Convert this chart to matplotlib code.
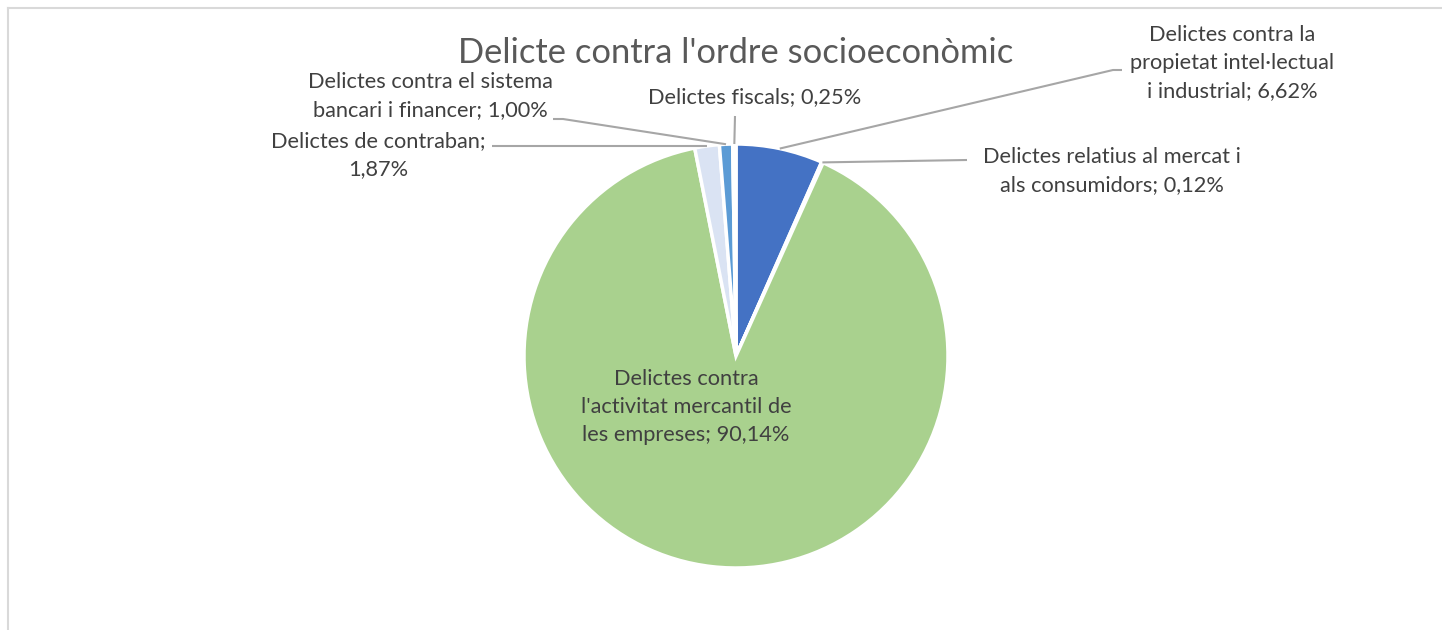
import matplotlib
matplotlib.use('Agg')
import numpy as np
import matplotlib.pyplot as plt

# data (clockwise from 12 o'clock)
categories = ["Delictes contra la\npropietat intel·lectual\ni industrial",
              "Delictes relatius al mercat i\nals consumidors",
              "Delictes contra\nl'activitat mercantil de\nles empreses",
              "Delictes de contraban;\n",
              "Delictes contra el sistema\nbancari i financer",
              "Delictes fiscals"]
shares = [6.62, 0.12, 90.14, 1.87, 1.00, 0.25]
colors = ['#4472C4', '#ED7D31', '#A9D18E', '#DAE3F3', '#5B9BD5', '#FFFFFF']

TITLE = "Delicte contra l'ordre socioeconòmic"

# layout, in pixels of the 1442x630 canvas
W, H = 1442, 630
CX, CY, R = 736, 356, 212
label_pos = [(1232, 63), (1112, 171), (686, 407), (378, 155), (430, 96), (755, 97)]
# where each leader line leaves the label (None = label sits inside the slice)
leader_start = [[(1122, 70), (1113, 70)],
                [(967, 160)],
                None,
                [(492, 146), (690, 146)],
                [(553, 119), (563, 119)],
                [(735, 116)]]

FONT = ['Lato', 'DejaVu Sans']
TXT = '#404040'
LINE = '#A6A6A6'


def px(x, y):
    return (x - CX) / R, (CY - y) / R


def fmt(v):
    return ("%.2f%%" % v).replace('.', ',')


fig = plt.figure(figsize=(W / 100, H / 100), dpi=100)
ax = fig.add_axes([0, 0, 1, 1])

wedges, _ = ax.pie(shares, colors=colors, startangle=90, counterclock=False,
                   radius=1, wedgeprops=dict(edgecolor='white', linewidth=2.5))

ax.set_xlim(-CX / R, (W - CX) / R)
ax.set_ylim(-(H - CY) / R, CY / R)
ax.set_aspect('equal')
ax.axis('off')

for i, w in enumerate(wedges):
    name = categories[i]
    if name.endswith('\n'):
        txt = name + fmt(shares[i])
    else:
        txt = name + '; ' + fmt(shares[i])
    x, y = px(*label_pos[i])
    ax.text(x, y, txt, ha='center', va='center', fontsize=15.7, color=TXT,
            family=FONT, linespacing=1.5)

    pts = leader_start[i]
    if pts is None:
        continue
    mid = np.deg2rad((w.theta1 + w.theta2) / 2)
    end = (np.cos(mid), np.sin(mid))
    xs = [px(*p)[0] for p in pts] + [end[0]]
    ys = [px(*p)[1] for p in pts] + [end[1]]
    ax.plot(xs, ys, color=LINE, lw=1.5, solid_capstyle='butt')

tx, ty = px(736, 53)
ax.text(tx, ty, TITLE, ha='center', va='center', fontsize=24.8, color='#595959',
        family=FONT)

# chart area frame (only top and left edges are inside the crop)
fig.add_artist(plt.Line2D([8 / W, 1], [1 - 8 / H, 1 - 8 / H], color='#D9D9D9', lw=1.5))
fig.add_artist(plt.Line2D([8 / W, 8 / W], [0, 1 - 8 / H], color='#D9D9D9', lw=1.5))

plt.savefig('out.png', dpi=100)
